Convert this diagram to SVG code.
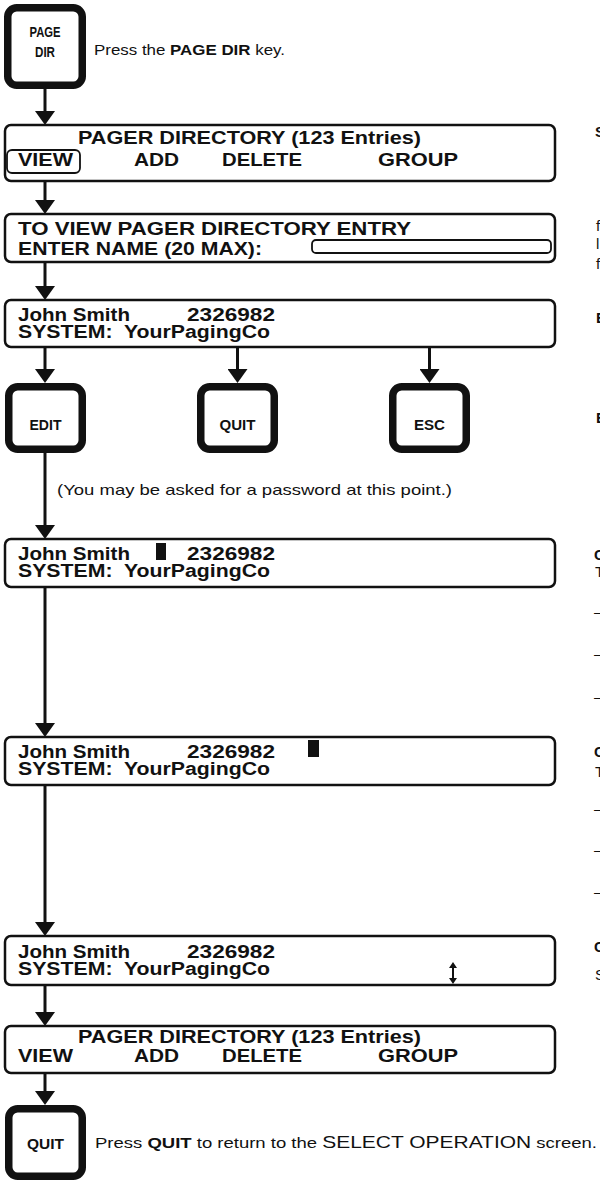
<svg xmlns="http://www.w3.org/2000/svg" width="600" height="1182" viewBox="0 0 600 1182">
<defs>
<style>
.box{fill:#fff;stroke:#111;stroke-width:2.5}
.fld{fill:none;stroke:#111;stroke-width:1.8}
.key{fill:#fff;stroke:#111;stroke-width:7.5}
.lcd{font-family:"Liberation Sans",Arial,sans-serif;font-weight:bold;font-size:18px;fill:#111}
.body{font-family:"Liberation Sans",Arial,sans-serif;font-size:15px;fill:#111}
.b{font-weight:bold}
.kl{font-family:"Liberation Sans",Arial,sans-serif;font-weight:bold;font-size:14px;fill:#111;text-anchor:middle}
.conn{stroke:#111;stroke-width:3;fill:none;marker-end:url(#ah)}
.frag{font-family:"Liberation Sans",Arial,sans-serif;font-size:15px;fill:#111}
</style>
<marker id="ah" markerUnits="userSpaceOnUse" viewBox="0 0 14 20" refX="8" refY="10" markerWidth="14" markerHeight="20" orient="auto">
<path d="M0,0 L14,10 L0,20 Z" fill="#111"/>
</marker>
</defs>
<rect width="600" height="1182" fill="#fff"/>

<g id="connectors">
<line class="conn" x1="45" y1="89" x2="45" y2="119"/>
<line class="conn" x1="45" y1="181" x2="45" y2="208"/>
<line class="conn" x1="45" y1="262" x2="45" y2="294"/>
<line class="conn" x1="45" y1="347" x2="45" y2="377"/>
<line class="conn" x1="237.5" y1="347" x2="237.5" y2="377"/>
<line class="conn" x1="429.5" y1="347" x2="429.5" y2="377"/>
<line class="conn" x1="45" y1="453" x2="45" y2="533"/>
<line class="conn" x1="45" y1="587" x2="45" y2="731"/>
<line class="conn" x1="45" y1="785" x2="45" y2="930"/>
<line class="conn" x1="45" y1="985" x2="45" y2="1020"/>
<line class="conn" x1="45" y1="1073" x2="45" y2="1099"/>
</g>

<g id="key-page-dir">
<rect class="key" x="7.75" y="7.75" width="74.5" height="77.5" rx="9"/>
<text class="kl" x="45" y="37" textLength="31" lengthAdjust="spacingAndGlyphs">PAGE</text>
<text class="kl" x="45" y="57" textLength="20" lengthAdjust="spacingAndGlyphs">DIR</text>
</g>
<g id="note-press-page-dir">
<text class="body" x="94" y="55" textLength="191" lengthAdjust="spacingAndGlyphs">Press the <tspan class="b">PAGE DIR</tspan> key.</text>
</g>

<g id="screen-directory-1">
<rect class="box" x="5" y="125" width="550" height="56" rx="6"/>
<text class="lcd" x="78" y="144" textLength="343" lengthAdjust="spacingAndGlyphs">PAGER DIRECTORY (123 Entries)</text>
<rect class="fld" x="7" y="150" width="73" height="23" rx="5"/>
<text class="lcd" x="18" y="166" textLength="55" lengthAdjust="spacingAndGlyphs">VIEW</text>
<text class="lcd" x="134" y="166" textLength="45" lengthAdjust="spacingAndGlyphs">ADD</text>
<text class="lcd" x="222" y="166" textLength="80" lengthAdjust="spacingAndGlyphs">DELETE</text>
<text class="lcd" x="378" y="166" textLength="80" lengthAdjust="spacingAndGlyphs">GROUP</text>
</g>

<g id="screen-enter-name">
<rect class="box" x="5" y="214" width="550" height="48" rx="6"/>
<text class="lcd" x="18" y="235" textLength="393" lengthAdjust="spacingAndGlyphs">TO VIEW PAGER DIRECTORY ENTRY</text>
<text class="lcd" x="18" y="255" textLength="244" lengthAdjust="spacingAndGlyphs">ENTER NAME (20 MAX):</text>
<rect class="fld" x="312" y="240" width="239" height="13" rx="4"/>
</g>

<g id="screen-entry">
<rect class="box" x="5" y="300" width="550" height="47" rx="6"/>
<text class="lcd" x="18" y="321" textLength="112" lengthAdjust="spacingAndGlyphs">John Smith</text>
<text class="lcd" x="187" y="321" textLength="88" lengthAdjust="spacingAndGlyphs">2326982</text>
<text class="lcd" x="18" y="338" xml:space="preserve" textLength="252" lengthAdjust="spacingAndGlyphs">SYSTEM:  YourPagingCo</text>
</g>

<g id="key-edit">
<rect class="key" x="8.75" y="386.75" width="73.5" height="62.5" rx="9"/>
<text class="kl" x="45.5" y="430" textLength="32" lengthAdjust="spacingAndGlyphs">EDIT</text>
</g>
<g id="key-quit-1">
<rect class="key" x="200.75" y="386.75" width="73.5" height="62.5" rx="9"/>
<text class="kl" x="237.5" y="430" textLength="36" lengthAdjust="spacingAndGlyphs">QUIT</text>
</g>
<g id="key-esc">
<rect class="key" x="392.75" y="386.75" width="73.5" height="62.5" rx="9"/>
<text class="kl" x="429.5" y="430" textLength="31" lengthAdjust="spacingAndGlyphs">ESC</text>
</g>

<g id="note-password">
<text class="body" x="57" y="495" textLength="395" lengthAdjust="spacingAndGlyphs">(You may be asked for a password at this point.)</text>
</g>

<g id="screen-edit-name">
<rect class="box" x="5" y="539" width="550" height="48" rx="6"/>
<text class="lcd" x="18" y="560" textLength="112" lengthAdjust="spacingAndGlyphs">John Smith</text>
<rect x="156" y="543" width="10" height="17" fill="#111"/>
<text class="lcd" x="187" y="560" textLength="88" lengthAdjust="spacingAndGlyphs">2326982</text>
<text class="lcd" x="18" y="577" xml:space="preserve" textLength="252" lengthAdjust="spacingAndGlyphs">SYSTEM:  YourPagingCo</text>
</g>

<g id="screen-edit-number">
<rect class="box" x="5" y="737" width="550" height="48" rx="6"/>
<text class="lcd" x="18" y="758" textLength="112" lengthAdjust="spacingAndGlyphs">John Smith</text>
<text class="lcd" x="187" y="758" textLength="88" lengthAdjust="spacingAndGlyphs">2326982</text>
<rect x="308" y="740" width="11" height="17" fill="#111"/>
<text class="lcd" x="18" y="775" xml:space="preserve" textLength="252" lengthAdjust="spacingAndGlyphs">SYSTEM:  YourPagingCo</text>
</g>

<g id="screen-edit-system">
<rect class="box" x="5" y="936" width="550" height="49" rx="6"/>
<text class="lcd" x="18" y="958" textLength="112" lengthAdjust="spacingAndGlyphs">John Smith</text>
<text class="lcd" x="187" y="958" textLength="88" lengthAdjust="spacingAndGlyphs">2326982</text>
<text class="lcd" x="18" y="975" xml:space="preserve" textLength="252" lengthAdjust="spacingAndGlyphs">SYSTEM:  YourPagingCo</text>
<line x1="453" y1="967" x2="453" y2="979" stroke="#111" stroke-width="2"/>
<path d="M449,968 L453,962 L457,968 Z M449,978 L453,984 L457,978 Z" fill="#111"/>
</g>

<g id="screen-directory-2">
<rect class="box" x="5" y="1026" width="550" height="47" rx="6"/>
<text class="lcd" x="78" y="1043" textLength="343" lengthAdjust="spacingAndGlyphs">PAGER DIRECTORY (123 Entries)</text>
<text class="lcd" x="18" y="1062" textLength="55" lengthAdjust="spacingAndGlyphs">VIEW</text>
<text class="lcd" x="134" y="1062" textLength="45" lengthAdjust="spacingAndGlyphs">ADD</text>
<text class="lcd" x="222" y="1062" textLength="80" lengthAdjust="spacingAndGlyphs">DELETE</text>
<text class="lcd" x="378" y="1062" textLength="80" lengthAdjust="spacingAndGlyphs">GROUP</text>
</g>

<g id="key-quit-2">
<rect class="key" x="8.75" y="1108.75" width="73.5" height="67.5" rx="9"/>
<text class="kl" x="45.5" y="1149" textLength="37" lengthAdjust="spacingAndGlyphs">QUIT</text>
</g>
<g id="note-press-quit">
<text class="body" x="95" y="1148" textLength="502" lengthAdjust="spacingAndGlyphs">Press <tspan class="b">QUIT</tspan> to return to the <tspan font-size="17">SELECT OPERATION</tspan> screen.</text>
</g>

<g id="edge-fragments">
<text class="frag b" x="595" y="137">S</text>
<text class="frag" x="596" y="231">f</text>
<text class="frag" x="596" y="249">l</text>
<text class="frag" x="596" y="269">f</text>
<text class="frag b" x="596" y="323" font-size="18">E</text>
<text class="frag b" x="596" y="423" font-size="16">E</text>
<text class="frag b" x="594" y="560" font-size="22">C</text>
<text class="frag" x="595" y="577">T</text>
<text class="frag" x="594" y="617">–</text>
<text class="frag" x="594" y="659">–</text>
<text class="frag" x="594" y="702">–</text>
<text class="frag b" x="594" y="757" font-size="22">C</text>
<text class="frag" x="595" y="777">T</text>
<text class="frag" x="594" y="814">–</text>
<text class="frag" x="594" y="855">–</text>
<text class="frag" x="594" y="897">–</text>
<text class="frag b" x="594" y="952" font-size="22">C</text>
<text class="frag" x="595" y="980">S</text>
</g>
</svg>
